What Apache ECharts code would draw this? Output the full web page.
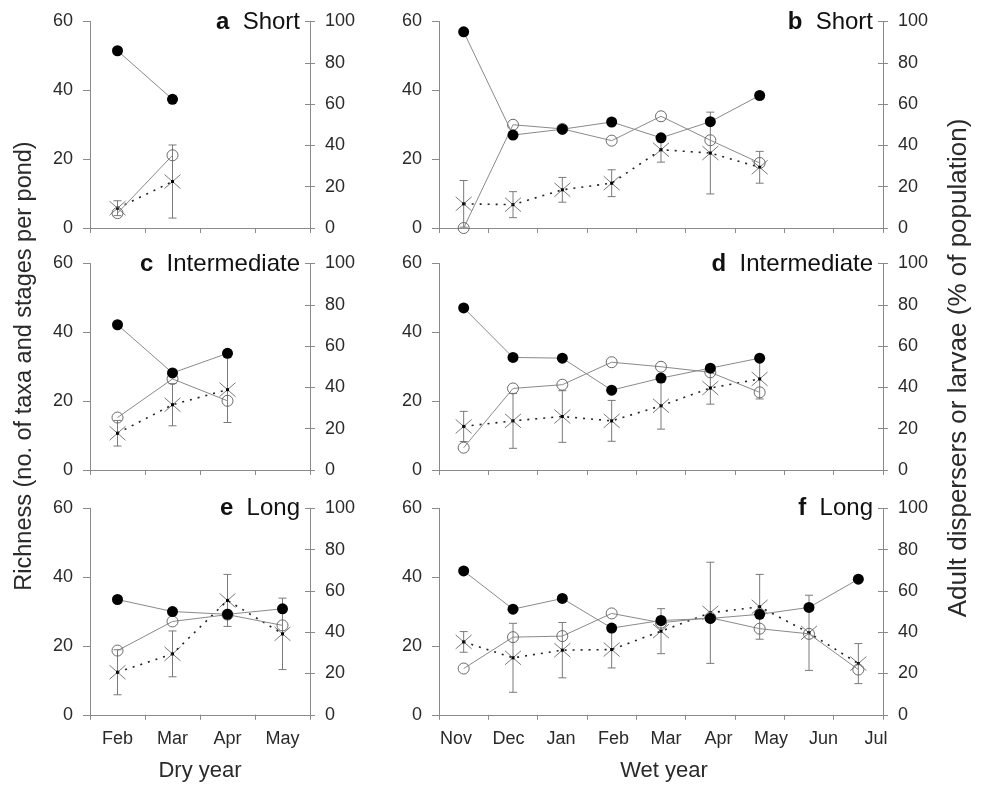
<!DOCTYPE html>
<html>
<head>
<meta charset="utf-8">
<script src="https://cdn.jsdelivr.net/npm/echarts@6/dist/echarts.min.js"></script>
<style>
html,body{margin:0;padding:0;background:#fff;}
#chart{width:984px;height:786px;}
</style>
</head>
<body>
<div id="chart"></div>
<script>
// ---- categories ----
const dryMonths = ['Feb', 'Mar', 'Apr', 'May'];
const wetMonths = ['Nov', 'Dec', 'Jan', 'Feb', 'Mar', 'Apr', 'May', 'Jun', 'Jul'];
// ---- tick labels ----
const richnessTicks = [0, 20, 40, 60];
const percentTicks = [0, 20, 40, 60, 80, 100];

// ---- data (richness: left axis; dispersers & larvae: right axis, %) ----
// a  Short, dry year
const aRichness   = [51.5, 37.4];
const aDispersers = [7.2, 35.2];
const aLarvae     = [9.6, 22.5];
const aLarvaeErr  = [3.6, 17.7];
// b  Short, wet year
const bRichness   = [57.0, 27.0, 28.7, 30.8, 26.2, 30.9, 38.5];
const bDispersers = [0, 50.0, 48.0, 42.3, 54.1, 42.5, 31.5];
const bLarvae     = [11.7, 11.3, 18.5, 21.7, 37.9, 36.3, 29.4];
const bLarvaeErr  = [11.3, 6.3, 6.0, 6.5, 6.0, 19.8, 7.7];
// c  Intermediate, dry year
const cRichness   = [42.2, 28.2, 33.9];
const cDispersers = [25.4, 44.1, 33.5];
const cLarvae     = [17.8, 31.6, 38.9];
const cLarvaeErr  = [6.2, 10.2, 15.9];
// d  Intermediate, wet year
const dRichness   = [47.1, 32.7, 32.5, 23.2, 26.7, 29.6, 32.5];
const dDispersers = [10.8, 39.5, 41.3, 52.2, 50.0, 47.3, 37.6];
const dLarvae     = [21.1, 23.8, 25.9, 23.8, 31.1, 39.7, 44.1];
const dLarvaeErr  = [7.3, 13.3, 12.5, 9.9, 11.3, 7.8, 9.7];
// e  Long, dry year
const eRichness   = [33.5, 30.0, 29.2, 30.8];
const eDispersers = [31.1, 45.2, 48.5, 43.3];
const eLarvae     = [20.6, 29.5, 55.4, 39.2];
const eLarvaeErr  = [10.9, 11.1, 12.6, 17.3];
// f  Long, wet year
const fRichness   = [41.8, 30.7, 33.8, 25.2, 27.4, 28.0, 29.2, 31.2, 39.4];
const fDispersers = [22.4, 37.6, 38.1, 49.1, 44.6, 47.0, 41.7, 39.2, 21.9];
const fLarvae     = [35.3, 27.6, 31.3, 31.6, 40.5, 49.4, 52.3, 39.7, 24.8];
const fLarvaeErr  = [5.0, 16.7, 13.4, 8.9, 10.9, 24.5, 15.7, 18.2, 9.7];

const panels = [
  {letter: 'a', label: 'Short',        months: dryMonths, rich: aRichness, disp: aDispersers, larv: aLarvae, err: aLarvaeErr},
  {letter: 'b', label: 'Short',        months: wetMonths, rich: bRichness, disp: bDispersers, larv: bLarvae, err: bLarvaeErr},
  {letter: 'c', label: 'Intermediate', months: dryMonths, rich: cRichness, disp: cDispersers, larv: cLarvae, err: cLarvaeErr},
  {letter: 'd', label: 'Intermediate', months: wetMonths, rich: dRichness, disp: dDispersers, larv: dLarvae, err: dLarvaeErr},
  {letter: 'e', label: 'Long',         months: dryMonths, rich: eRichness, disp: eDispersers, larv: eLarvae, err: eLarvaeErr},
  {letter: 'f', label: 'Long',         months: wetMonths, rich: fRichness, disp: fDispersers, larv: fLarvae, err: fLarvaeErr}
];

// ---- layout ----
const FONT = '"Liberation Sans", Arial, Helvetica, sans-serif';
const colLeft = [{left: 90, width: 220}, {left: 439, width: 444}];
const rowTop = [21.5, 263.5, 508.3];
const rowH = 206.5;
const AXIS = '#8a8a8a';
const TXT = '#2a2a2a';

const grids = [], xAxes = [], yAxes = [], series = [], graphics = [];

panels.forEach((p, g) => {
  const col = g % 2, row = Math.floor(g / 2);
  const bottomRow = row === 2;
  grids.push({left: colLeft[col].left, width: colLeft[col].width, top: rowTop[row], height: rowH, containLabel: false});
  xAxes.push({
    type: 'category', gridIndex: g, data: p.months, boundaryGap: true,
    axisLine: {show: true, lineStyle: {color: AXIS, width: 1}},
    axisTick: {show: true, length: 5, lineStyle: {color: AXIS}},
    axisLabel: {show: bottomRow && col === 0, margin: 15, fontSize: 18, color: TXT, fontFamily: FONT},
    splitLine: {show: false}
  });
  yAxes.push({
    type: 'value', gridIndex: g, position: 'left',
    min: richnessTicks[0], max: richnessTicks[richnessTicks.length - 1], interval: richnessTicks[1] - richnessTicks[0],
    axisLine: {show: true, lineStyle: {color: AXIS}},
    axisTick: {show: true, length: 7, lineStyle: {color: AXIS}},
    axisLabel: {margin: 17, fontSize: 18, color: TXT, fontFamily: FONT},
    splitLine: {show: false}
  });
  yAxes.push({
    type: 'value', gridIndex: g, position: 'right',
    min: percentTicks[0], max: percentTicks[percentTicks.length - 1], interval: percentTicks[1] - percentTicks[0],
    axisLine: {show: true, lineStyle: {color: AXIS}},
    axisTick: {show: true, length: 5, lineStyle: {color: AXIS}},
    axisLabel: {margin: 15, fontSize: 18, color: TXT, fontFamily: FONT},
    splitLine: {show: false}
  });
  yAxes.push({
    type: 'value', gridIndex: g, position: 'right',
    min: percentTicks[0], max: percentTicks[percentTicks.length - 1], interval: percentTicks[1] - percentTicks[0],
    axisLine: {show: false},
    axisTick: {show: true, inside: true, length: 5, lineStyle: {color: AXIS}},
    axisLabel: {show: false},
    splitLine: {show: false}
  });

  const yl = 3 * g, yr = 3 * g + 1;
  series.push({
    type: 'custom', xAxisIndex: g, yAxisIndex: yr, silent: true, z: 2,
    data: p.larv.map((v, i) => [i, v, p.err[i]]),
    encode: {x: 0, y: 1},
    renderItem: function (params, api) {
      const i = api.value(0), v = api.value(1), e = api.value(2);
      const c = api.coord([i, v]);
      const t = api.coord([i, v + e]);
      const b = api.coord([i, v - e]);
      const cap = 4, xs = 8, ys = 7;
      const st = {stroke: '#7a7a7a', lineWidth: 1};
      return {type: 'group', children: [
        {type: 'line', shape: {x1: c[0], y1: t[1], x2: c[0], y2: b[1]}, style: st},
        {type: 'line', shape: {x1: c[0] - cap, y1: t[1], x2: c[0] + cap, y2: t[1]}, style: st},
        {type: 'line', shape: {x1: c[0] - cap, y1: b[1], x2: c[0] + cap, y2: b[1]}, style: st},
        {type: 'line', shape: {x1: c[0] - xs, y1: c[1] - ys, x2: c[0] + xs, y2: c[1] + ys}, style: st},
        {type: 'line', shape: {x1: c[0] - xs, y1: c[1] + ys, x2: c[0] + xs, y2: c[1] - ys}, style: st},
        {type: 'rect', shape: {x: c[0] - 1.5, y: c[1] - 1.5, width: 3, height: 3}, style: {fill: '#000'}}
      ]};
    }
  });
  series.push({
    type: 'line', name: 'larvae', xAxisIndex: g, yAxisIndex: yr, data: p.larv, silent: true, z: 3,
    symbol: 'none',
    lineStyle: {color: '#222', width: 1.6, type: [2, 6]}
  });
  series.push({
    type: 'line', name: 'dispersers', xAxisIndex: g, yAxisIndex: yr, data: p.disp, silent: true, z: 4,
    symbol: 'circle', symbolSize: 11, showAllSymbol: true,
    itemStyle: {color: 'rgba(255,255,255,0)', borderColor: '#6a6a6a', borderWidth: 1},
    lineStyle: {color: '#8a8a8a', width: 1}
  });
  series.push({
    type: 'line', name: 'richness', xAxisIndex: g, yAxisIndex: yl, data: p.rich, silent: true, z: 5,
    symbol: 'circle', symbolSize: 11, showAllSymbol: true,
    itemStyle: {color: '#000', borderColor: '#000', borderWidth: 0},
    lineStyle: {color: '#8a8a8a', width: 1}
  });

  // panel title
  const gl = colLeft[col].left + colLeft[col].width;
  graphics.push({
    type: 'text', x: gl - 10, y: rowTop[row] + 0.5,
    style: {
      text: '{b|' + p.letter + '}  {n|' + p.label + '}',
      textAlign: 'right', textVerticalAlign: 'middle',
      fontSize: 24, fontFamily: FONT, fill: '#111',
      rich: {
        b: {fontSize: 24, fontWeight: 'bold', fontFamily: FONT, fill: '#111'},
        n: {fontSize: 24, fontFamily: FONT, fill: '#111'}
      }
    }
  });
});

// inner half of crossing ticks on the dry-year x axes
[0, 2, 4].forEach(g => {
  xAxes.push({
    type: 'category', gridIndex: g, data: panels[g].months, boundaryGap: true,
    axisLine: {show: false},
    axisTick: {show: true, inside: true, length: 4, lineStyle: {color: AXIS}},
    axisLabel: {show: false}, splitLine: {show: false}
  });
});

// month labels for the wet-year panels (hand-placed month labels in the original)
grids.push({left: 429.75, width: 472.5, top: rowTop[2], height: rowH, containLabel: false});
xAxes.push({
  type: 'category', gridIndex: 6, data: wetMonths, boundaryGap: true,
  axisLine: {show: false}, axisTick: {show: false},
  axisLabel: {show: true, margin: 15, fontSize: 18, color: TXT, fontFamily: FONT},
  splitLine: {show: false}
});
yAxes.push({type: 'value', gridIndex: 6, show: false, min: 0, max: 100});

// axis names
graphics.push({type: 'text', x: 200, y: 771, style: {text: 'Dry year', textAlign: 'center', textVerticalAlign: 'middle', fontSize: 22, fontFamily: FONT, fill: TXT}});
graphics.push({type: 'text', x: 664, y: 771, style: {text: 'Wet year', textAlign: 'center', textVerticalAlign: 'middle', fontSize: 22, fontFamily: FONT, fill: TXT}});
graphics.push({type: 'text', x: 25, y: 366, rotation: Math.PI / 2, style: {text: 'Richness (no. of taxa and stages per pond)', textAlign: 'center', textVerticalAlign: 'middle', fontSize: 23.5, fontFamily: FONT, fill: TXT}});
graphics.push({type: 'text', x: 959, y: 368, rotation: Math.PI / 2, style: {text: 'Adult dispersers or larvae (% of population)', textAlign: 'center', textVerticalAlign: 'middle', fontSize: 26, fontFamily: FONT, fill: TXT}});

const chart = echarts.init(document.getElementById('chart'), null, {renderer: 'canvas'});
chart.setOption({
  animation: false,
  backgroundColor: '#fff',
  textStyle: {fontFamily: FONT},
  grid: grids,
  xAxis: xAxes,
  yAxis: yAxes,
  series: series,
  graphic: graphics
});
</script>
</body>
</html>
